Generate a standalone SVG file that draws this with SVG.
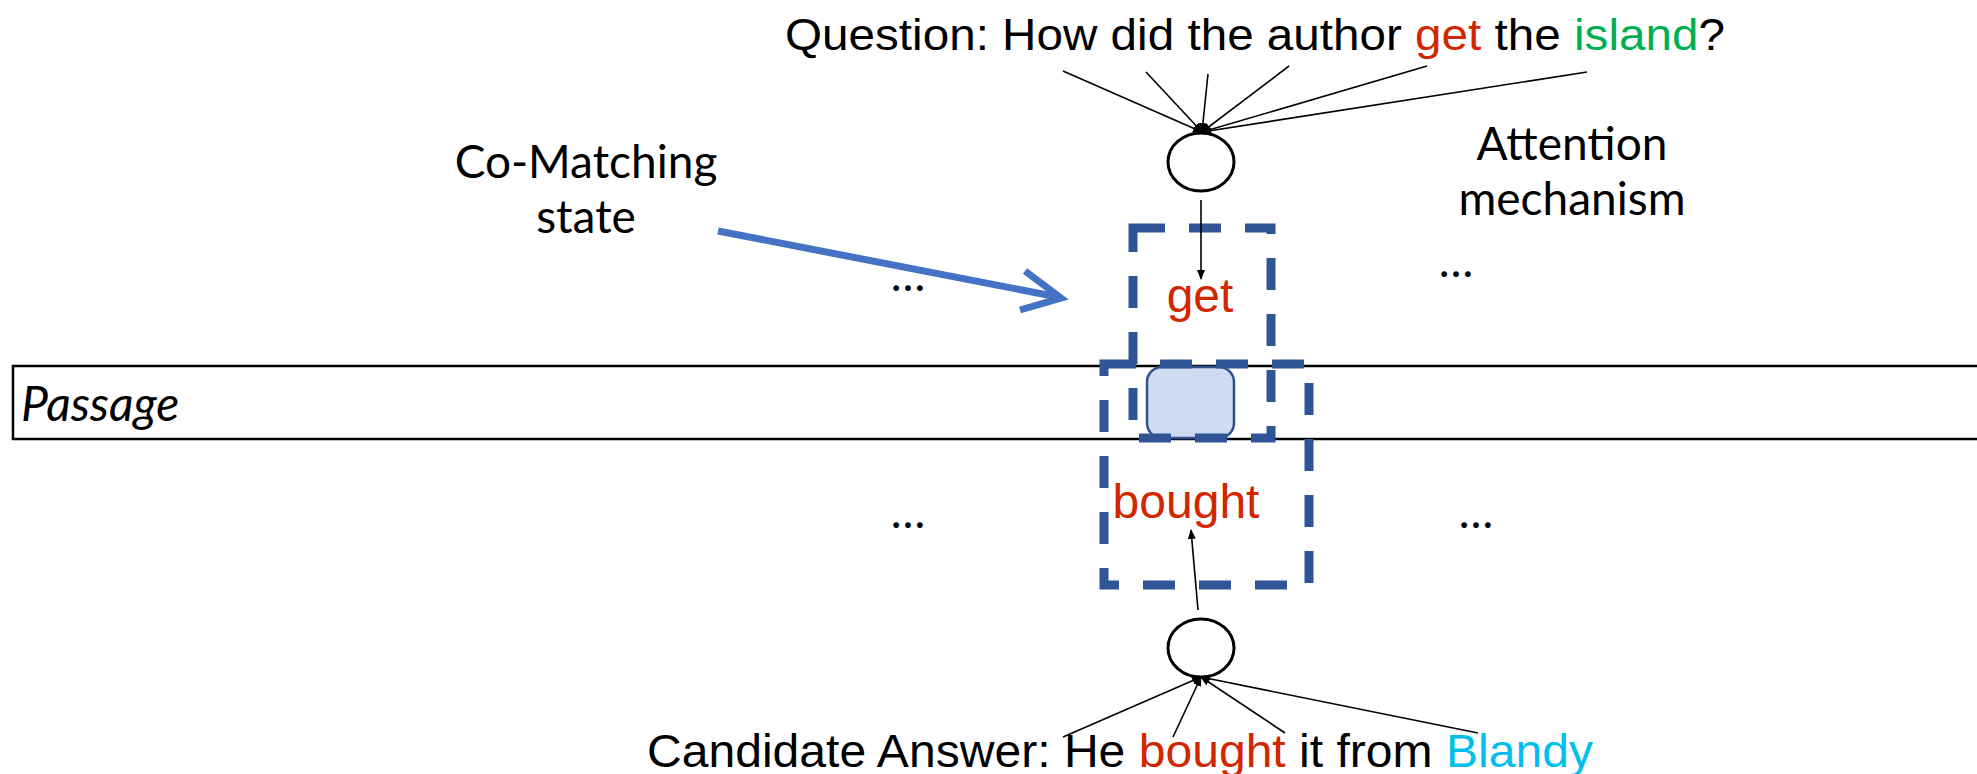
<svg xmlns="http://www.w3.org/2000/svg" width="1977" height="774" viewBox="0 0 1977 774">
  <style>
    .sans { font-family: "Liberation Sans", Arial, sans-serif; }
    .hum { font-family: Lato, "Open Sans", sans-serif; fill: #000; }
    .red { fill: #D22600; }
    .green { fill: #00B050; }
    .cyan { fill: #00BFF0; }
    .wire { stroke: #000; stroke-width: 1.6; fill: none; marker-end: url(#tip); }
    .node { fill: #fff; stroke: #000; stroke-width: 3; }
    .dash { fill: none; stroke: #2F5597; stroke-width: 9; stroke-dasharray: 32 24; }
    .dots { font-family: Lato, "Open Sans", sans-serif; font-size: 46px; fill: #000; }
  </style>
  <defs>
    <marker id="tip" markerUnits="userSpaceOnUse" markerWidth="10" markerHeight="8" refX="9" refY="4" orient="auto">
      <path d="M0,0 L10,4 L0,8 Z" fill="#000"/>
    </marker>
  </defs>
  <rect width="1977" height="774" fill="#fff"/>

  <!-- passage strip -->
  <g id="passage">
    <rect x="13" y="366" width="1990" height="73" fill="#fff" stroke="#000" stroke-width="2.5"/>
    <text x="21" y="421" class="hum" font-size="48" font-style="italic">Passage</text>
  </g>

  <!-- question sentence -->
  <g id="question">
    <text x="785" y="50" class="sans" font-size="44" textLength="940" lengthAdjust="spacingAndGlyphs">Question: How did the author <tspan class="red">get</tspan> the <tspan class="green">island</tspan>?</text>
  </g>

  <!-- candidate answer sentence -->
  <g id="candidate">
    <text x="647" y="767" class="sans" font-size="47" textLength="946" lengthAdjust="spacingAndGlyphs">Candidate Answer: He <tspan class="red">bought</tspan> it from <tspan class="cyan">Blandy</tspan></text>
  </g>

  <!-- attention nodes -->
  <g id="attn-question">
    <ellipse cx="1201" cy="162" rx="33" ry="29" class="node"/>
  </g>
  <g id="attn-answer">
    <ellipse cx="1201" cy="648" rx="33" ry="29" class="node"/>
  </g>

  <!-- matched passage word -->
  <g id="match-cell">
    <rect x="1147" y="367" width="87" height="71" rx="15" fill="#CFDBEE" stroke="#2F528F" stroke-width="2.5"/>
  </g>

  <!-- attended words -->
  <g id="get-box">
    <rect x="1133" y="228" width="138" height="210" class="dash"/>
    <text x="1200" y="312" class="sans red" font-size="48" text-anchor="middle">get</text>
  </g>
  <g id="bought-box">
    <rect x="1104" y="364" width="205" height="221" class="dash"/>
    <text x="1186" y="518" class="sans red" font-size="48" text-anchor="middle">bought</text>
  </g>

  <!-- labels -->
  <g id="co-matching-label">
    <text x="586" y="178" class="hum" font-size="46" text-anchor="middle">Co-Matching</text>
    <text x="586" y="233" class="hum" font-size="46" text-anchor="middle">state</text>
  </g>
  <g id="attention-label">
    <text x="1572" y="160" class="hum" font-size="46" text-anchor="middle">Attention</text>
    <text x="1572" y="215" class="hum" font-size="46" text-anchor="middle">mechanism</text>
  </g>

  <!-- ellipses standing for other positions -->
  <g id="ellipsis">
    <text x="908" y="291" class="dots" text-anchor="middle">…</text>
    <text x="1456" y="277" class="dots" text-anchor="middle">…</text>
    <text x="908" y="528" class="dots" text-anchor="middle">…</text>
    <text x="1476" y="528" class="dots" text-anchor="middle">…</text>
  </g>

  <!-- connectors -->
  <g id="connectors">
    <line x1="1063" y1="71" x2="1202" y2="132" class="wire"/>
    <line x1="1146" y1="72" x2="1202" y2="132" class="wire"/>
    <line x1="1208" y1="74" x2="1202" y2="132" class="wire"/>
    <line x1="1289" y1="66" x2="1202" y2="132" class="wire"/>
    <line x1="1427" y1="66" x2="1202" y2="132" class="wire"/>
    <line x1="1587" y1="72" x2="1202" y2="132" class="wire"/>
    <line x1="1201" y1="200" x2="1201" y2="279" class="wire" stroke="#333"/>
    <line x1="1198" y1="610" x2="1191" y2="530" class="wire"/>
    <line x1="1063" y1="737" x2="1201" y2="677" class="wire"/>
    <line x1="1173" y1="737" x2="1201" y2="677" class="wire"/>
    <line x1="1285" y1="733" x2="1201" y2="677" class="wire"/>
    <line x1="1478" y1="733" x2="1201" y2="677" class="wire"/>
    <!-- pointer to the co-matching state -->
    <path d="M718,231 L1058,297" fill="none" stroke="#4472C4" stroke-width="7"/>
    <path d="M1025,271 L1061,298 L1020,310" fill="none" stroke="#4472C4" stroke-width="7" stroke-linejoin="miter"/>
  </g>
</svg>
